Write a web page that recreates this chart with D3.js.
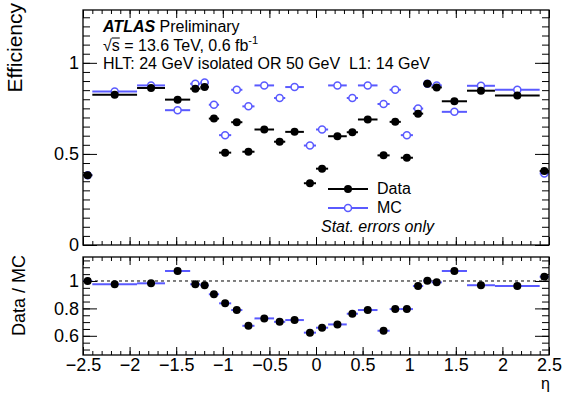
<!DOCTYPE html>
<html>
<head>
<meta charset="utf-8">
<script src="https://cdn.jsdelivr.net/npm/d3@7"></script>
<style>
  body { margin: 0; background: white; }
  svg { display: block; font-family: "Liberation Sans", Arial, sans-serif; }
</style>
</head>
<body>
<script>
// eta bin edges (28 bins)
let binEdges = [-2.5, -2.4, -1.92, -1.62, -1.35, -1.24, -1.15, -1.04, -0.91, -0.79, -0.66, -0.45, -0.33, -0.13, 0,
                0.13, 0.33, 0.45, 0.66, 0.79, 0.91, 1.04, 1.15, 1.24, 1.35, 1.62, 1.92, 2.4, 2.5];

// efficiencies
let dataEff = [0.383, 0.825, 0.862, 0.798, 0.858, 0.867, 0.694, 0.507, 0.674, 0.512, 0.634, 0.567, 0.621, 0.339,
               0.419, 0.597, 0.619, 0.689, 0.492, 0.676, 0.479, 0.721, 0.885, 0.865, 0.789, 0.847, 0.821, 0.406];
let mcEff = [0.383, 0.843, 0.876, 0.740, 0.885, 0.892, 0.770, 0.603, 0.852, 0.761, 0.876, 0.807, 0.867, 0.546,
             0.634, 0.876, 0.807, 0.876, 0.774, 0.852, 0.603, 0.749, 0.885, 0.876, 0.731, 0.874, 0.852, 0.393];
// data / MC
let ratioVals = [1.0, 0.976, 0.983, 1.073, 0.976, 0.969, 0.903, 0.837, 0.788, 0.673, 0.727, 0.702, 0.715, 0.623,
                 0.659, 0.683, 0.761, 0.788, 0.637, 0.795, 0.795, 0.963, 1.002, 0.990, 1.073, 0.969, 0.963, 1.031];

let etaTicks = [-2.5, -2, -1.5, -1, -0.5, 0, 0.5, 1, 1.5, 2, 2.5];
let effTicks = [0, 0.5, 1];
let ratioTicks = [0.6, 0.8, 1];

let w = 563, h = 394;
let left = 83, right = 549;
let topY0 = 10, topY1 = 245;
let botY0 = 257, botY1 = 355;
let blue = "#5a5aff";

let svg = d3.select("body").append("svg")
    .attr("width", w)
    .attr("height", h)
    .style("background-color", "white");

let xScale = d3.scaleLinear().domain([-2.5, 2.5]).range([left, right]);
let yTop = d3.scaleLinear().domain([0, 1.29]).range([topY1, topY0]);
let yBot = d3.scaleLinear().domain([0.46, 1.175]).range([botY1, botY0]);

// one row per bin
let bins = dataEff.map(function(d, i){
  return {
    lo: binEdges[i],
    hi: binEdges[i+1],
    mid: (binEdges[i] + binEdges[i+1]) / 2,
    data: d,
    mc: mcEff[i],
    ratio: ratioVals[i]
  };
});

// ticks helper, ROOT style: ticks point into the frame
function addAxis(maker, scale, values, size, tx, ty, fmt, pad){
  let ax = maker(scale)
      .tickValues(values)
      .tickSizeInner(size)
      .tickSizeOuter(0)
      .tickPadding(pad || 4)
      .tickFormat(fmt || function(){ return ""; });
  let g = svg.append("g")
      .attr("transform", "translate(" + tx + "," + ty + ")")
      .call(ax);
  g.select(".domain").remove();
  g.selectAll("line").attr("stroke", "black");
  g.attr("font-family", "Liberation Sans, Arial, sans-serif");
  g.selectAll("text").attr("font-size", 18).attr("fill", "black");
  return g;
}

let fmt = d3.format("~g");
let etaMinor = d3.range(-25, 26).map(function(d){ return d / 10; });
let effMinor = d3.range(0, 26).map(function(d){ return d * 0.05; });
let ratioMinor = d3.range(10, 24).map(function(d){ return d * 0.05; });

function frameAxes(yScale, y0, y1, yMajor, yMinor, labelX){
  addAxis(d3.axisLeft, yScale, yMinor, -7, left, 0);
  addAxis(d3.axisLeft, yScale, yMajor, -14, left, 0, fmt, 4);
  addAxis(d3.axisRight, yScale, yMinor, -7, right, 0);
  addAxis(d3.axisRight, yScale, yMajor, -14, right, 0);
  addAxis(d3.axisBottom, xScale, etaMinor, -4, 0, y1);
  addAxis(d3.axisBottom, xScale, etaTicks, -8, 0, y1, labelX ? fmt : null, 3);
  addAxis(d3.axisTop, xScale, etaMinor, -4, 0, y0);
  addAxis(d3.axisTop, xScale, etaTicks, -8, 0, y0);
  svg.append("rect")
      .attr("x", left).attr("y", y0)
      .attr("width", right - left).attr("height", y1 - y0)
      .attr("fill", "none").attr("stroke", "black").attr("stroke-width", 1.3);
}

// ---------- top panel ----------
let topG = svg.append("g");

// MC first
topG.selectAll(".mcbar").data(bins).enter().append("line")
    .attr("x1", function(d){ return xScale(d.lo); })
    .attr("x2", function(d){ return xScale(d.hi); })
    .attr("y1", function(d){ return yTop(d.mc); })
    .attr("y2", function(d){ return yTop(d.mc); })
    .attr("stroke", blue).attr("stroke-width", 2);
topG.selectAll(".mcpt").data(bins).enter().append("circle")
    .attr("cx", function(d){ return xScale(d.mid); })
    .attr("cy", function(d){ return yTop(d.mc); })
    .attr("r", 3.5)
    .attr("fill", "white").attr("stroke", blue).attr("stroke-width", 1.5);

topG.selectAll(".databar").data(bins).enter().append("line")
    .attr("x1", function(d){ return xScale(d.lo); })
    .attr("x2", function(d){ return xScale(d.hi); })
    .attr("y1", function(d){ return yTop(d.data); })
    .attr("y2", function(d){ return yTop(d.data); })
    .attr("stroke", "black").attr("stroke-width", 2);
topG.selectAll(".datapt").data(bins).enter().append("circle")
    .attr("cx", function(d){ return xScale(d.mid); })
    .attr("cy", function(d){ return yTop(d.data); })
    .attr("r", 4)
    .attr("fill", "black");

frameAxes(yTop, topY0, topY1, effTicks, effMinor, false);

// ---------- bottom panel ----------
let botG = svg.append("g");
botG.append("line")
    .attr("x1", left).attr("x2", right)
    .attr("y1", yBot(1)).attr("y2", yBot(1))
    .attr("stroke", "black").attr("stroke-width", 1)
    .attr("stroke-dasharray", "3,3");
botG.selectAll(".rbar").data(bins).enter().append("line")
    .attr("x1", function(d){ return xScale(d.lo); })
    .attr("x2", function(d){ return xScale(d.hi); })
    .attr("y1", function(d){ return yBot(d.ratio); })
    .attr("y2", function(d){ return yBot(d.ratio); })
    .attr("stroke", blue).attr("stroke-width", 2);
botG.selectAll(".rpt").data(bins).enter().append("circle")
    .attr("cx", function(d){ return xScale(d.mid); })
    .attr("cy", function(d){ return yBot(d.ratio); })
    .attr("r", 4)
    .attr("fill", "black");

frameAxes(yBot, botY0, botY1, ratioTicks, ratioMinor, true);

// ---------- titles ----------
svg.append("text")
    .attr("transform", "translate(22,3) rotate(-90)")
    .attr("text-anchor", "end")
    .attr("font-size", 21)
    .text("Efficiency");
svg.append("text")
    .attr("transform", "translate(25,255) rotate(-90)")
    .attr("text-anchor", "end")
    .attr("font-size", 18)
    .text("Data / MC");
svg.append("text")
    .attr("x", 550).attr("y", 389)
    .attr("text-anchor", "end")
    .attr("font-size", 16)
    .text("η");

// ---------- ATLAS label ----------
let atlas = svg.append("text").attr("x", 103).attr("y", 32).attr("font-size", 16);
atlas.append("tspan").attr("font-weight", "bold").attr("font-style", "italic").text("ATLAS");
atlas.append("tspan").text(" Preliminary");

let ecm = svg.append("text").attr("x", 103).attr("y", 51).attr("font-size", 16);
ecm.append("tspan").text("√s = 13.6 TeV, 0.6 fb");
ecm.append("tspan").attr("font-size", 11).attr("dy", -7).text("-1");
// bar over the s of the square root
let sStart = ecm.node().getStartPositionOfChar(1);
let sEnd = ecm.node().getEndPositionOfChar(1);
svg.append("line")
    .attr("x1", sStart.x).attr("x2", sEnd.x)
    .attr("y1", 51 - 13).attr("y2", 51 - 13)
    .attr("stroke", "black").attr("stroke-width", 1);

svg.append("text").attr("x", 103).attr("y", 69).attr("font-size", 16)
    .attr("xml:space", "preserve")
    .text("HLT: 24 GeV isolated OR 50 GeV  L1: 14 GeV");

// ---------- legend ----------
let legX0 = 328, legX1 = 368;
let leg = svg.append("g");
leg.append("line").attr("x1", legX0).attr("x2", legX1).attr("y1", 189).attr("y2", 189)
    .attr("stroke", "black").attr("stroke-width", 2);
leg.append("circle").attr("cx", (legX0 + legX1) / 2).attr("cy", 189).attr("r", 4).attr("fill", "black");
leg.append("text").attr("x", 377).attr("y", 194).attr("font-size", 16).text("Data");
leg.append("line").attr("x1", legX0).attr("x2", legX1).attr("y1", 208).attr("y2", 208)
    .attr("stroke", blue).attr("stroke-width", 2);
leg.append("circle").attr("cx", (legX0 + legX1) / 2).attr("cy", 208).attr("r", 3.5)
    .attr("fill", "white").attr("stroke", blue).attr("stroke-width", 1.5);
leg.append("text").attr("x", 377).attr("y", 213).attr("font-size", 16).text("MC");
leg.append("text").attr("x", 321).attr("y", 232).attr("font-size", 16)
    .attr("font-style", "italic").text("Stat. errors only");
</script>
</body>
</html>
